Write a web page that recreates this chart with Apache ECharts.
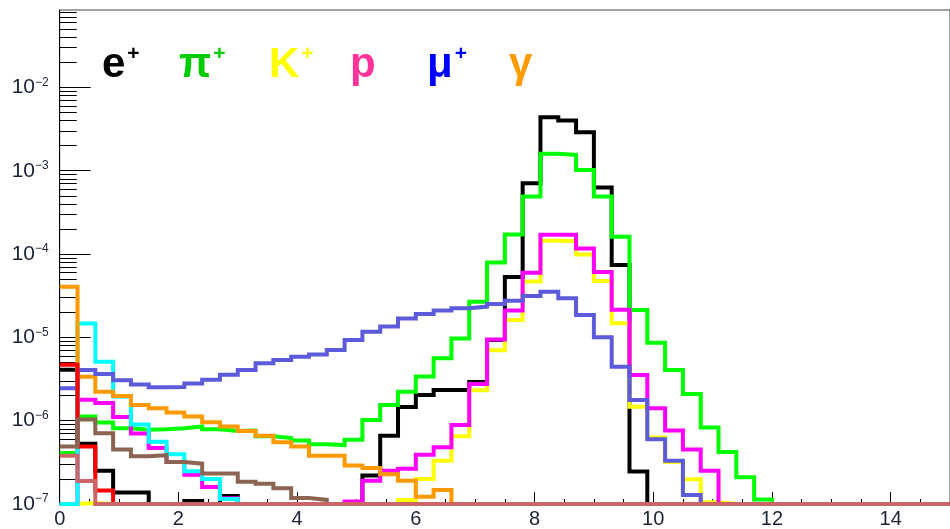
<!DOCTYPE html>
<html>
<head>
<meta charset="utf-8">
<script src="https://cdn.jsdelivr.net/npm/echarts@6/dist/echarts.min.js"></script>
<style>
  html, body { margin: 0; padding: 0; background: #ffffff; }
  #chart { width: 950px; height: 529px; }
</style>
</head>
<body>
<div id="chart"></div>
<script>
// Binning: 50 bins of width 0.3 covering [0, 15]
const BIN_LOW = 0;
const BIN_WIDTH = 0.3;
const N_BINS = 50;
const Y_MIN = 1e-7;
const Y_MAX = 0.085;

// Bin contents per particle species
const ePlus = [
  4.1e-6, 5.3e-7, 2.5e-7, 1.37e-7, 1.37e-7, 0, 0, 1.09e-7, 0, 1.25e-7,
  0, 0, 0, 0, 0, 0, 0, 2.2e-7, 6.6e-7, 1.46e-6,
  2.03e-6, 2.34e-6, 2.34e-6, 2.92e-6, 9.3e-6, 5.3e-5, 7.1e-4, 4.4e-3, 4.0e-3, 2.9e-3,
  6.3e-4, 7.4e-5, 2.45e-7, 0, 0, 0, 0, 0, 0, 0,
  0, 0, 0, 0, 0, 0, 0, 0, 0, 0
];
const piPlus = [
  4.1e-7, 1.12e-6, 9.5e-7, 8.1e-7, 7.8e-7, 7.9e-7, 8.1e-7, 8.5e-7, 7.9e-7, 7.5e-7,
  7.6e-7, 6.5e-7, 6.2e-7, 5.8e-7, 5.2e-7, 5.1e-7, 5.9e-7, 1.02e-6, 1.54e-6, 2.23e-6,
  3.4e-6, 5.6e-6, 9.7e-6, 2.68e-5, 7.9e-5, 1.72e-4, 4.9e-4, 1.6e-3, 1.55e-3, 1.02e-3,
  4.9e-4, 1.61e-4, 2.13e-5, 8.6e-6, 4.06e-6, 2.09e-6, 8.3e-7, 4.2e-7, 2.09e-7, 1.13e-7,
  0, 0, 0, 0, 0, 0, 0, 0, 0, 0
];
const kPlus = [
  0, 1.03e-7, 0, 0, 0, 0, 0, 0, 0, 0,
  0, 0, 0, 0, 0, 0, 0, 0, 0, 1.12e-7,
  2.0e-7, 3.3e-7, 6.5e-7, 2.32e-6, 7.0e-6, 1.62e-5, 4.67e-5, 1.44e-4, 1.43e-4, 9.9e-5,
  4.75e-5, 1.48e-5, 1.47e-6, 6.3e-7, 3.2e-7, 1.98e-7, 1.05e-7, 0, 0, 0,
  0, 0, 0, 0, 0, 0, 0, 0, 0, 0
];
const proton = [
  0, 1.78e-6, 1.63e-6, 1.11e-6, 7.0e-7, 4.7e-7, 3.2e-7, 2.25e-7, 1.6e-7, 1.17e-7,
  0, 0, 0, 0, 0, 0, 1.07e-7, 1.9e-7, 2.5e-7, 2.65e-7,
  3.9e-7, 4.8e-7, 8.9e-7, 2.75e-6, 9.4e-6, 2.1e-5, 5.95e-5, 1.7e-4, 1.7e-4, 1.17e-4,
  6.1e-5, 2.15e-5, 3.54e-6, 1.41e-6, 7.6e-7, 4.5e-7, 2.5e-7, 0, 0, 0,
  0, 0, 0, 0, 0, 0, 0, 0, 0, 0
];
const muPlus = [
  2.45e-6, 4.06e-6, 3.64e-6, 3.05e-6, 2.72e-6, 2.52e-6, 2.54e-6, 2.8e-6, 3.1e-6, 3.55e-6,
  4.06e-6, 4.9e-6, 5.36e-6, 5.87e-6, 6.25e-6, 7.06e-6, 9.3e-6, 1.17e-5, 1.35e-5, 1.69e-5,
  1.91e-5, 2.1e-5, 2.23e-5, 2.34e-5, 2.52e-5, 2.76e-5, 3.14e-5, 3.54e-5, 2.94e-5, 1.86e-5,
  1.0e-5, 4.45e-6, 1.77e-6, 5.97e-7, 3.3e-7, 1.28e-7, 0, 0, 0, 0,
  0, 0, 0, 0, 0, 0, 0, 0, 0, 0
];
const gamma = [
  4.06e-5, 3.37e-6, 2.23e-6, 1.98e-6, 1.54e-6, 1.41e-6, 1.25e-6, 1.12e-6, 9.6e-7, 8.5e-7,
  7.5e-7, 6.6e-7, 5.5e-7, 4.9e-7, 3.8e-7, 3.8e-7, 2.9e-7, 2.7e-7, 2.27e-7, 1.9e-7,
  1.22e-7, 1.47e-7, 0, 0, 0, 0, 0, 0, 0, 0,
  0, 0, 0, 0, 0, 0, 0, 0, 0, 0,
  0, 0, 0, 0, 0, 0, 0, 0, 0, 0
];
const cyanHist = [
  0, 1.47e-5, 5.1e-6, 1.95e-6, 9.0e-7, 5.6e-7, 3.95e-7, 2.47e-7, 2.0e-7, 1.15e-7,
  0, 0, 0, 0, 0, 0, 0, 0, 0, 0,
  0, 0, 0, 0, 0, 0, 0, 0, 0, 0,
  0, 0, 0, 0, 0, 0, 0, 0, 0, 0,
  0, 0, 0, 0, 0, 0, 0, 0, 0, 0
];
const redHist = [
  4.7e-6, 4.9e-7, 1.45e-7, 0, 0, 0, 0, 0, 0, 0,
  0, 0, 0, 0, 0, 0, 0, 0, 0, 0,
  0, 0, 0, 0, 0, 0, 0, 0, 0, 0,
  0, 0, 0, 0, 0, 0, 0, 0, 0, 0,
  0, 0, 0, 0, 0, 0, 0, 0, 0, 0
];
const brownHist = [
  4.9e-7, 1.03e-6, 7.06e-7, 4.5e-7, 3.75e-7, 3.85e-7, 3.2e-7, 3.05e-7, 2.33e-7, 2.33e-7,
  1.85e-7, 1.75e-7, 1.55e-7, 1.18e-7, 1.12e-7, 0, 0, 0, 0, 0,
  0, 0, 0, 0, 0, 0, 0, 0, 0, 0,
  0, 0, 0, 0, 0, 0, 0, 0, 0, 0,
  0, 0, 0, 0, 0, 0, 0, 0, 0, 0
];
const salmonHist = [
  3.8e-7, 1.89e-7, 0, 0, 0, 0, 0, 0, 0, 0,
  0, 0, 0, 0, 0, 0, 0, 0, 0, 0,
  0, 0, 0, 0, 0, 0, 0, 0, 0, 0,
  0, 0, 0, 0, 0, 0, 0, 0, 0, 0,
  0, 0, 0, 0, 0, 0, 0, 0, 0, 0
];

// Axis ticks
const yMajorTicks = [1e-7, 1e-6, 1e-5, 1e-4, 1e-3, 1e-2];
const xTickStep = 2;
const xMinorStep = 0.5;

// Legend labels drawn across the top of the pad
const legendMain = ['e', 'π', 'K', 'p', 'μ', 'γ'];
const legendSup = ['+', '+', '+', '', '+', ''];
const legendColors = ['#000000', '#00cc00', '#ffff00', '#ff3399', '#0000ff', '#ff9900'];
const legendLeft = [102, 179, 269, 350, 427, 509];

// Minor log ticks: 2..9 within each decade up to the top of the axis
const yMinorTicks = [];
yMajorTicks.concat([1e-1]).forEach(function (d) {
  for (let k = 2; k <= 9; k++) {
    const v = d * k;
    if (v < Y_MAX) yMinorTicks.push(v);
  }
});

const FONT = "'Liberation Sans', Arial, Helvetica, sans-serif";
const LABEL_COLOR = '#1c2236';

// Histogram outline: one point per bin low edge, plus the upper edge of the last bin.
// Empty bins sit on the bottom of the log axis.
function histPoints(vals) {
  const pts = vals.map(function (v, i) {
    return [BIN_LOW + i * BIN_WIDTH, Math.max(v, Y_MIN)];
  });
  pts.push([BIN_LOW + N_BINS * BIN_WIDTH, Math.max(vals[N_BINS - 1], Y_MIN)]);
  return pts;
}

const histograms = [
  { name: 'e+', data: ePlus, color: '#000000' },
  { name: 'pi+', data: piPlus, color: '#00ff00' },
  { name: 'K+', data: kPlus, color: '#ffff00' },
  { name: 'p', data: proton, color: '#ff00ff' },
  { name: 'cyan', data: cyanHist, color: '#00ffff' },
  { name: 'gamma', data: gamma, color: '#ff9900' },
  { name: 'mu+', data: muPlus, color: '#5b5bdc' },
  { name: 'red', data: redHist, color: '#ff0000' },
  { name: 'brown', data: brownHist, color: '#8c6452' },
  { name: 'salmon', data: salmonHist, color: '#cc6666' }
];

const chart = echarts.init(document.getElementById('chart'), null, { renderer: 'canvas' });

const option = {
  animation: false,
  backgroundColor: '#ffffff',
  grid: {
    left: 59.7, top: 10, width: 892.5, height: 494,
    show: true, borderColor: '#444444', borderWidth: 1, backgroundColor: 'transparent'
  },
  title: legendMain.map(function (t, i) {
    const txt = legendSup[i] ? '{m|' + t + '}{s|' + legendSup[i] + '}' : '{m|' + t + '}';
    return {
      text: txt, left: legendLeft[i], top: 44, padding: 0, itemGap: 0,
      textStyle: {
        rich: {
          m: { fontSize: 42, fontWeight: 'bold', fontFamily: FONT, color: legendColors[i], lineHeight: 42 },
          s: { fontSize: 21, fontWeight: 'bold', fontFamily: FONT, color: legendColors[i], lineHeight: 22, verticalAlign: 'top', padding: [0, 0, 0, 2] }
        }
      }
    };
  }),
  xAxis: [
    {
      type: 'value', min: BIN_LOW, max: BIN_LOW + N_BINS * BIN_WIDTH, interval: xTickStep,
      position: 'bottom',
      axisLine: { show: true, onZero: false, lineStyle: { color: '#000000', width: 1 } },
      axisTick: { show: true, inside: true, length: 12, lineStyle: { color: '#000000', width: 1 } },
      axisLabel: { show: true, margin: 5, fontSize: 20, fontFamily: FONT, color: LABEL_COLOR, showMaxLabel: false },
      splitLine: { show: false }
    },
    {
      type: 'value', min: BIN_LOW, max: BIN_LOW + N_BINS * BIN_WIDTH, interval: xMinorStep,
      position: 'bottom',
      axisLine: { show: false },
      axisTick: { show: true, inside: true, length: 5, lineStyle: { color: '#000000', width: 1 } },
      axisLabel: { show: false },
      splitLine: { show: false }
    }
  ],
  yAxis: [
    {
      type: 'log', logBase: 10, min: Y_MIN, max: Y_MAX, position: 'left',
      axisLine: { show: true, lineStyle: { color: '#000000', width: 1 } },
      axisTick: { show: true, inside: true, length: 31, customValues: yMajorTicks, lineStyle: { color: '#000000', width: 1 } },
      axisLabel: {
        show: true, margin: 11, customValues: yMajorTicks,
        formatter: function (v) {
          const e = Math.round(Math.log10(v));
          return '{b|10}{s|' + String(e).replace('-', '\u2212') + '}';
        },
        rich: {
          b: { fontSize: 21, fontFamily: FONT, color: LABEL_COLOR, lineHeight: 22 },
          s: { fontSize: 12, fontFamily: FONT, color: LABEL_COLOR, lineHeight: 15, verticalAlign: 'top' }
        }
      },
      splitLine: { show: false }
    },
    {
      type: 'log', logBase: 10, min: Y_MIN, max: Y_MAX, position: 'left',
      axisLine: { show: false },
      axisTick: { show: true, inside: true, length: 17, customValues: yMinorTicks, lineStyle: { color: '#000000', width: 1 } },
      axisLabel: { show: false },
      splitLine: { show: false }
    }
  ],
  series: histograms.map(function (h, i) {
    return {
      name: h.name,
      type: 'line',
      step: 'end',
      xAxisIndex: 0,
      yAxisIndex: 0,
      data: histPoints(h.data),
      showSymbol: false,
      symbol: 'none',
      clip: false,
      z: 2 + i * 0.01,
      lineStyle: { color: h.color, width: 4, join: 'miter', cap: 'butt' },
      emphasis: { disabled: true }
    };
  })
};

chart.setOption(option);
</script>
</body>
</html>
